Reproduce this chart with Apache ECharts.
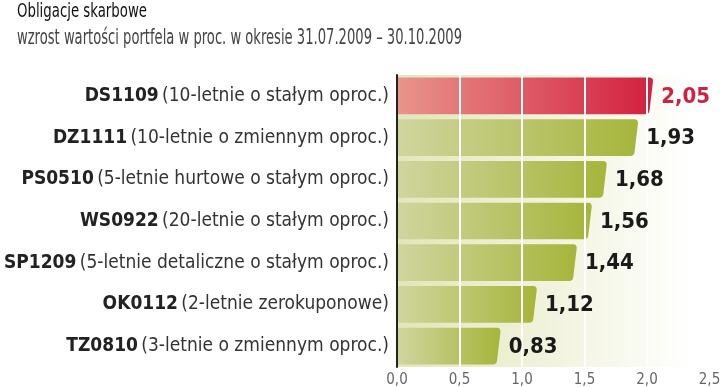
<!DOCTYPE html>
<html>
<head>
<meta charset="utf-8">
<script src="https://cdn.jsdelivr.net/npm/echarts@6/dist/echarts.min.js"></script>
<style>
html,body{margin:0;padding:0;background:#fff;}
#c{width:720px;height:387px;}
</style>
</head>
<body>
<div id="c"></div>
<script>
const titleText = 'Obligacje skarbowe';
const subtitleText = 'wzrost wartości portfela w proc. w okresie 31.07.2009 – 30.10.2009';
const codes = ['DS1109','DZ1111','PS0510','WS0922','SP1209','OK0112','TZ0810'];
const descriptions = ['(10-letnie o stałym oproc.)','(10-letnie o zmiennym oproc.)','(5-letnie hurtowe o stałym oproc.)','(20-letnie o stałym oproc.)','(5-letnie detaliczne o stałym oproc.)','(2-letnie zerokuponowe)','(3-letnie o zmiennym oproc.)'];
const values = [2.05,1.93,1.68,1.56,1.44,1.12,0.83];
const highlight = [true,false,false,false,false,false,false];

const chart = echarts.init(document.getElementById('c'));
const data = values.map((v,i)=>[i,v]);
const FONT = 'DejaVu Sans Condensed';

const mctx = document.createElement('canvas').getContext('2d');
function fitScale(text, font, target){ mctx.font = font; return target / mctx.measureText(text).width; }
const tFont = '20px "'+FONT+'"';
const sFont = '21px "'+FONT+'"';
const tScale = fitScale(titleText, tFont, 130);
const sScale = fitScale(subtitleText, sFont, 445);

function barItem(params, api){
  const idx = api.value(0), v = api.value(1);
  const p0 = api.coord([0, idx]), p1 = api.coord([v, idx]);
  const band = api.size([0,1])[1];
  const h = band*0.88;
  const top = p0[1]-h/2, bot = p0[1]+h/2;
  const x0 = p0[0]+1, x1 = p1[0], s = 4, r = 4;
  const d = `M${x0},${top} L${x1-r},${top} Q${x1},${top} ${x1-0.3},${top+r} L${x1-s+0.3},${bot-r} Q${x1-s},${bot} ${x1-s-r},${bot} L${x0},${bot} Z`;
  const hl = highlight[idx];
  const fill = new echarts.graphic.LinearGradient(0,0,1,0, hl ?
    [{offset:0,color:'#e8948b'},{offset:1,color:'#d3203f'}] :
    [{offset:0,color:'#d0d59e'},{offset:1,color:'#a6b53b'}]);
  return {type:'path', shape:{pathData:d}, style:{fill:fill}};
}
function labelItem(params, api){
  const idx = api.value(0), v = api.value(1);
  const p1 = api.coord([v, idx]);
  return {type:'text', x:p1[0]+8, y:p1[1]+1, style:{
    text: v.toFixed(2).replace('.',','), fill: highlight[idx] ? '#d3203f' : '#1a1a1a',
    font: 'bold 22px "'+FONT+'"', verticalAlign:'middle', align:'left'}};
}

chart.setOption({
  animation:false,
  graphic:[
    {type:'text', left:17, top:2, scaleX:tScale, style:{text:titleText, font:tFont, fill:'#111'}},
    {type:'text', left:17, top:28, scaleX:sScale, style:{text:subtitleText, font:sFont, fill:'#444'}}
  ],
  grid:{left:397, right:10.5, top:75, bottom:20, show:true, borderWidth:0,
    containLabel:false, outerBoundsMode:'none',
    backgroundColor:new echarts.graphic.LinearGradient(0,0,1,0,[{offset:0,color:'#e3e6b9'},{offset:0.95,color:'#ffffff'}])},
  xAxis:{type:'value', min:0, max:2.5, interval:0.5, z:3,
    axisLine:{show:false}, axisTick:{show:false},
    splitLine:{show:true, lineStyle:{color:'#ffffff', width:2}},
    axisLabel:{margin:6, color:'#666', fontFamily:FONT, fontSize:15,
      formatter:v=>v.toFixed(1).replace('.',',')}},
  yAxis:{type:'category', inverse:true, data:codes, z:4,
    axisLine:{show:true, lineStyle:{color:'#222', width:2}}, axisTick:{show:false},
    axisLabel:{margin:8, formatter:(val,i)=>'{b|'+val+'} {r|'+descriptions[i]+'}',
      rich:{b:{fontFamily:FONT, fontSize:19, fontWeight:'bold', color:'#222'},
            r:{fontFamily:FONT, fontSize:19, color:'#333'}}}},
  series:[
    {type:'custom', z:2, renderItem:barItem, data:data, encode:{x:1,y:0}, silent:true},
    {type:'custom', z:10, renderItem:labelItem, data:data, encode:{x:1,y:0}, silent:true}
  ]
});
</script>
</body>
</html>
